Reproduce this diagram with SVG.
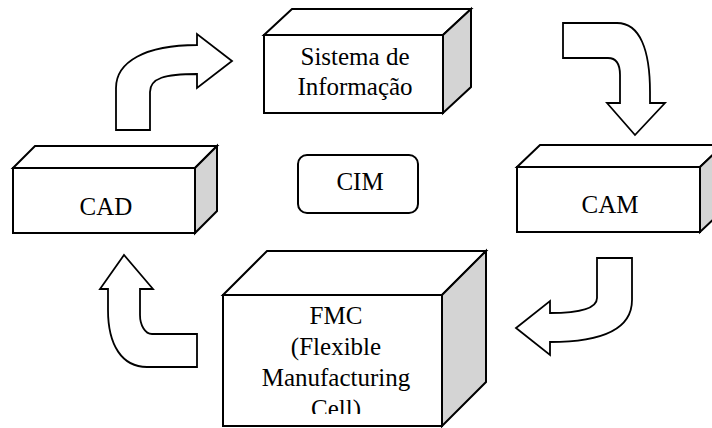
<svg xmlns="http://www.w3.org/2000/svg" width="712" height="428" viewBox="0 0 712 428">
  <style>
    .edge { fill: #fff; stroke: #000; stroke-width: 2; stroke-linejoin: miter; }
    .side { fill: #d4d4d4; stroke: #000; stroke-width: 2; stroke-linejoin: miter; }
    .arrow { fill: #fff; stroke: #000; stroke-width: 1.8; stroke-linejoin: miter; }
    .label { font-family: "Liberation Serif", "Times New Roman", serif; font-size: 25px; text-anchor: middle; fill: #000; }
  </style>
  <defs>
    <clipPath id="fmc-clip">
      <rect x="223" y="295" width="219" height="119"/>
    </clipPath>
  </defs>
  <rect width="712" height="428" fill="#fff"/>

  <!-- flow arrows -->
  <g id="connectors">
    <path class="arrow" d="M116,130 L116,88 C116,62 145,45 197,45 L197,34 L232,61 L197,88 L197,74 C165,74 150,78 150,92 L150,130 Z"/>
    <path class="arrow" d="M563,23 L617,23 C640,23 650,50 650,92 L650,103 L665,103 L635,135 L607,103 L620,103 L620,75 C620,63 615,58 608,58 L563,58 Z"/>
    <path class="arrow" d="M632,258 L632,300 C632,330 600,342 550,342 L550,355 L516,328 L550,301 L550,313 C580,313 597,308 597,298 L597,258 Z"/>
    <path class="arrow" d="M197,334 L152,334 C145,334 140,325 140,315 L140,289 L153,289 L124,255 L100,289 L108,289 L108,310 C108,345 122,367 147,367 L197,367 Z"/>
  </g>

  <!-- Sistema de Informação -->
  <g id="sistema">
    <polygon class="edge" points="264,35 292,9 471,9 443,35"/>
    <polygon class="side" points="443,35 471,9 471,87 443,113"/>
    <rect class="edge" x="264" y="35" width="179" height="78"/>
    <text class="label" x="355" y="65">Sistema de</text>
    <text class="label" x="355" y="95">Informação</text>
  </g>

  <!-- CAD -->
  <g id="cad">
    <polygon class="edge" points="13,168 35,146 217,146 195,168"/>
    <polygon class="side" points="195,168 217,146 217,211 195,233"/>
    <rect class="edge" x="13" y="168" width="182" height="65"/>
    <text class="label" x="106" y="215">CAD</text>
  </g>

  <!-- CAM -->
  <g id="cam">
    <polygon class="edge" points="517,167 540,145 723,145 700,167"/>
    <polygon class="side" points="700,167 723,145 723,210 700,232"/>
    <rect class="edge" x="517" y="167" width="183" height="65"/>
    <text class="label" x="610" y="213">CAM</text>
  </g>

  <!-- CIM -->
  <g id="cim">
    <rect class="edge" x="298" y="155" width="120" height="58" rx="9" ry="9"/>
    <text class="label" x="360" y="190">CIM</text>
  </g>

  <!-- FMC -->
  <g id="fmc">
    <polygon class="edge" points="223,295 267,251 486,251 442,295"/>
    <polygon class="side" points="442,295 486,251 486,382 442,426"/>
    <rect class="edge" x="223" y="295" width="219" height="131"/>
    <g clip-path="url(#fmc-clip)">
      <text class="label" x="336" y="324">FMC</text>
      <text class="label" x="336" y="355">(Flexible</text>
      <text class="label" x="336" y="386">Manufacturing</text>
      <text class="label" x="336" y="417">Cell)</text>
    </g>
  </g>
</svg>
